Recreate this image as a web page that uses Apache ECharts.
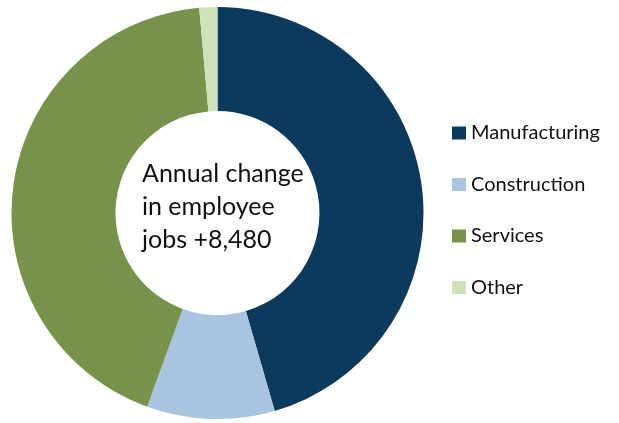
<!DOCTYPE html>
<html>
<head>
<meta charset="utf-8">
<script src="https://cdn.jsdelivr.net/npm/echarts@6/dist/echarts.min.js"></script>
<style>
  html, body { margin: 0; padding: 0; background: #ffffff; }
  #chart { width: 619px; height: 423px; }
</style>
</head>
<body>
<div id="chart"></div>
<script>
// Annual change in employee jobs, by sector
const categories = ['Manufacturing', 'Construction', 'Services', 'Other'];
const jobChange = [3860, 850, 3650, 120];
const sectorColors = ['#0D3A5C', '#A9C4DF', '#77934B', '#CFE1BA'];
const centreLines = ['Annual change', 'in employee', 'jobs +8,480'];

const chart = echarts.init(document.getElementById('chart'), null, { renderer: 'canvas' });

chart.setOption({
  animation: false,
  backgroundColor: '#ffffff',
  color: sectorColors,
  legend: {
    orient: 'vertical',
    left: 452,
    top: 122,
    padding: 0,
    icon: 'rect',
    itemWidth: 14,
    itemHeight: 13,
    itemGap: 29.5,
    selectedMode: false,
    data: categories,
    textStyle: {
      fontFamily: 'Lato',
      fontSize: 20,
      lineHeight: 22,
      color: '#111111'
    }
  },
  graphic: [{
    type: 'text',
    left: 142,
    top: 157,
    style: {
      text: centreLines.join('\n'),
      font: '25px Lato',
      lineHeight: 33,
      fill: '#111111',
      textAlign: 'left'
    }
  }],
  series: [{
    type: 'pie',
    center: [217.5, 213],
    radius: [102, 206],
    startAngle: 90,
    clockwise: true,
    avoidLabelOverlap: false,
    label: { show: false },
    labelLine: { show: false },
    emphasis: { disabled: true },
    itemStyle: { borderWidth: 0 },
    data: categories.map((name, i) => ({ name, value: jobChange[i] }))
  }]
});
</script>
</body>
</html>
